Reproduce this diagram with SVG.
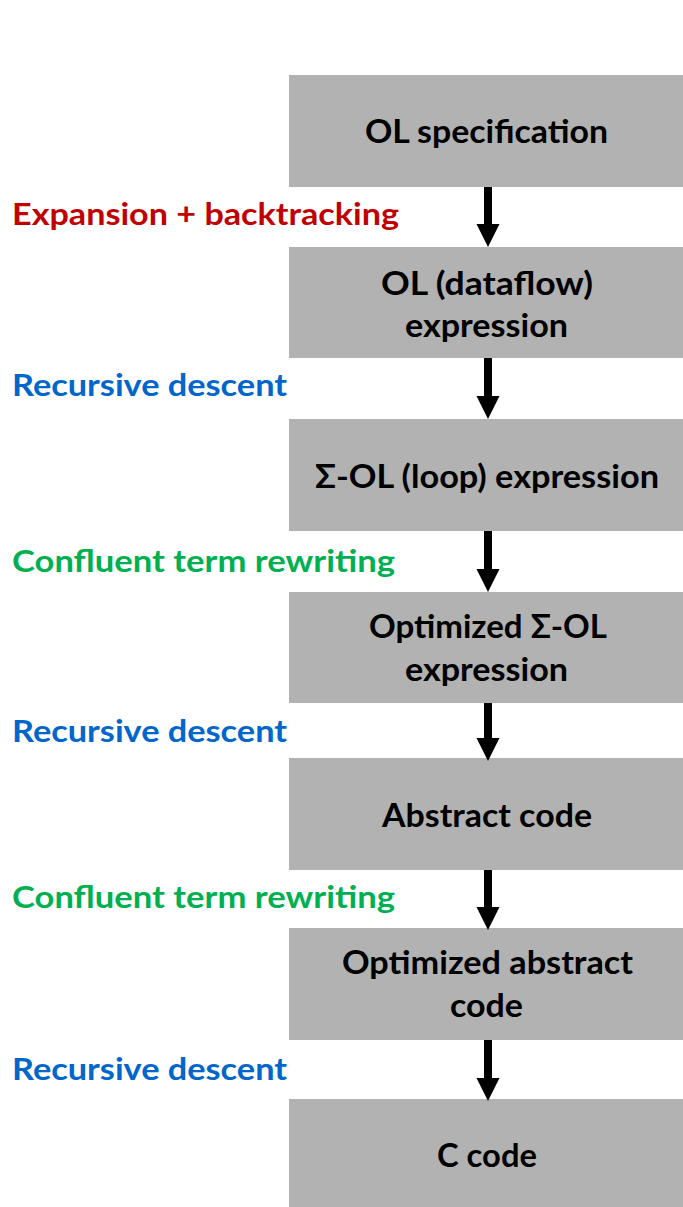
<svg xmlns="http://www.w3.org/2000/svg" width="683" height="1207" viewBox="0 0 683 1207">
<style>
.box{fill:#B2B2B2}
.nt{font-family:Lato,"Open Sans","Liberation Sans",sans-serif;font-weight:bold;font-size:32px;fill:#000}
.lb{font-family:Lato,"Open Sans","Liberation Sans",sans-serif;font-weight:bold;font-size:31px}
.red{fill:#C00000}
.blue{fill:#0066CC}
.green{fill:#00B050}
.conn line{stroke:#000;stroke-width:8}
</style>
<defs>
<marker id="ah" markerUnits="userSpaceOnUse" markerWidth="24" markerHeight="24" refX="0" refY="11.5" orient="auto">
<path d="M0,0 L23,11.5 L0,23 z" fill="#000"/>
</marker>
</defs>
<rect width="683" height="1207" fill="#fff"/>
<g id="n1"><rect class="box" x="289" y="75" width="394" height="112"/><text class="nt" x="365" y="143" textLength="243" lengthAdjust="spacingAndGlyphs">OL specification</text></g>
<g id="n2"><rect class="box" x="289" y="247" width="394" height="111"/><text class="nt" x="381" y="295" textLength="212" lengthAdjust="spacingAndGlyphs">OL (dataflow)</text><text class="nt" x="405" y="337" textLength="163" lengthAdjust="spacingAndGlyphs">expression</text></g>
<g id="n3"><rect class="box" x="289" y="419" width="394" height="112"/><text class="nt" x="315" y="488" textLength="344" lengthAdjust="spacingAndGlyphs">Σ-OL (loop) expression</text></g>
<g id="n4"><rect class="box" x="289" y="592" width="394" height="111"/><text class="nt" x="369" y="638" textLength="238" lengthAdjust="spacingAndGlyphs">Optimized Σ-OL</text><text class="nt" x="405" y="681" textLength="163" lengthAdjust="spacingAndGlyphs">expression</text></g>
<g id="n5"><rect class="box" x="289" y="758" width="394" height="112"/><text class="nt" x="382" y="827" textLength="210" lengthAdjust="spacingAndGlyphs">Abstract code</text></g>
<g id="n6"><rect class="box" x="289" y="928" width="394" height="112"/><text class="nt" x="342" y="974" textLength="291" lengthAdjust="spacingAndGlyphs">Optimized abstract</text><text class="nt" x="450" y="1017" textLength="73" lengthAdjust="spacingAndGlyphs">code</text></g>
<g id="n7"><rect class="box" x="289" y="1099" width="394" height="112"/><text class="nt" x="437" y="1167" textLength="100" lengthAdjust="spacingAndGlyphs">C code</text></g>
<g id="connectors" class="conn">
<line x1="488" y1="187" x2="488" y2="224" marker-end="url(#ah)"/>
<line x1="488" y1="358" x2="488" y2="396" marker-end="url(#ah)"/>
<line x1="488" y1="531" x2="488" y2="569" marker-end="url(#ah)"/>
<line x1="488" y1="703" x2="488" y2="738" marker-end="url(#ah)"/>
<line x1="488" y1="870" x2="488" y2="907" marker-end="url(#ah)"/>
<line x1="488" y1="1040" x2="488" y2="1078" marker-end="url(#ah)"/>
</g>
<g id="labels">
<text class="lb red" x="12" y="225" textLength="387" lengthAdjust="spacingAndGlyphs">Expansion + backtracking</text>
<text class="lb blue" x="12" y="396" textLength="275" lengthAdjust="spacingAndGlyphs">Recursive descent</text>
<text class="lb green" x="12" y="572" textLength="383" lengthAdjust="spacingAndGlyphs">Confluent term rewriting</text>
<text class="lb blue" x="12" y="742" textLength="275" lengthAdjust="spacingAndGlyphs">Recursive descent</text>
<text class="lb green" x="12" y="908" textLength="383" lengthAdjust="spacingAndGlyphs">Confluent term rewriting</text>
<text class="lb blue" x="12" y="1080" textLength="275" lengthAdjust="spacingAndGlyphs">Recursive descent</text>
</g>
</svg>
